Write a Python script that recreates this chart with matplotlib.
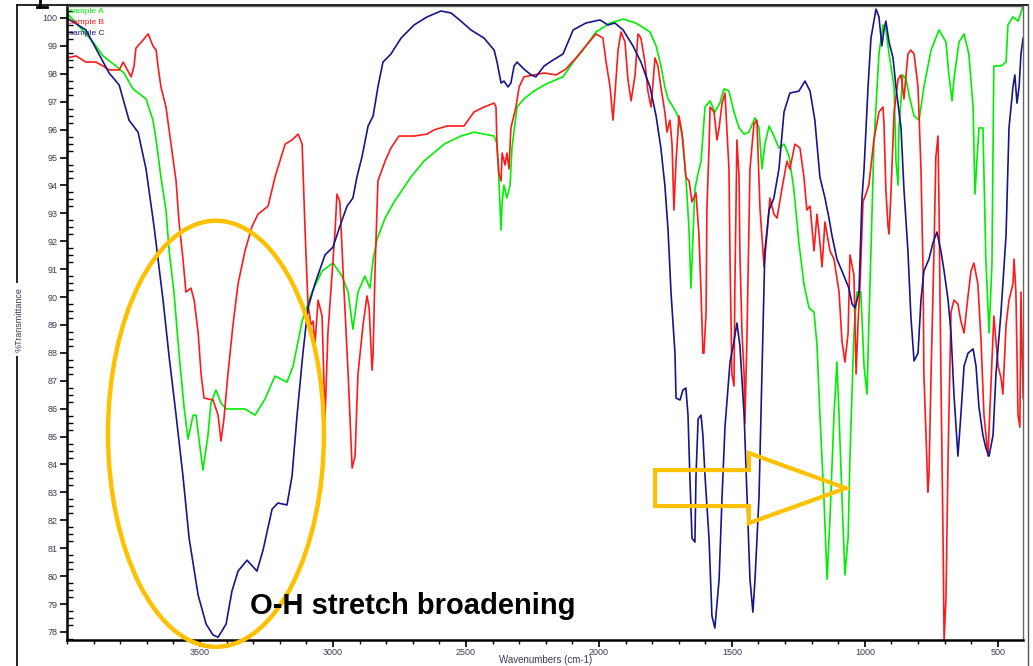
import matplotlib
matplotlib.use("Agg")
import matplotlib.pyplot as plt
from matplotlib.patches import Ellipse, Polygon
from matplotlib.lines import Line2D
from matplotlib.ticker import MultipleLocator

plt.rcParams['font.family'] = ['Liberation Sans', 'DejaVu Sans']

# sample A (green)
wn_a = [4000, 3902, 3865, 3816, 3786, 3752, 3703, 3677, 3665, 3647, 3628, 3616, 3598, 3579, 3560,
        3545, 3526, 3515, 3504, 3489, 3470, 3459, 3440, 3421, 3402, 3331, 3293, 3256, 3218, 3173,
        3150, 3116, 3079, 3041, 3000, 2966, 2943, 2925, 2906, 2880, 2861, 2849, 2834, 2804, 2770,
        2707, 2658, 2582, 2519, 2470, 2394, 2383, 2376, 2368, 2364, 2357, 2346, 2334, 2327, 2308,
        2282, 2244, 2206, 2173, 2135, 2097, 2060, 2011, 1958, 1909, 1861, 1808, 1785, 1767, 1752,
        1740, 1721, 1703, 1684, 1673, 1661, 1654, 1646, 1639, 1627, 1616, 1601, 1582, 1564, 1545,
        1530, 1511, 1492, 1473, 1454, 1436, 1413, 1398, 1387, 1376, 1360, 1342, 1323, 1304, 1285,
        1267, 1248, 1229, 1210, 1191, 1180, 1169, 1154, 1142, 1131, 1116, 1105, 1097, 1086, 1075,
        1063, 1056, 1041, 1030, 1015, 1003, 992, 985, 977, 966, 947, 932, 921, 909, 890,
        883, 875, 872, 857, 845, 834, 815, 796, 778, 751, 721, 695, 684, 672, 665,
        646, 627, 609, 593, 586, 571, 556, 545, 533, 522, 515, 488, 469, 462, 443,
        424, 413, 405]
t_a = [100.18, 99.14, 98.64, 98.28, 98.03, 97.46, 97.10, 96.34, 95.63, 94.30, 93.12, 91.65, 90.18, 87.99, 86.06,
       84.91, 85.77, 85.77, 84.91, 83.80, 85.05, 86.20, 86.67, 86.20, 85.99, 85.99, 85.77, 86.34, 87.17, 86.95,
       87.53, 89.14, 90.18, 90.93, 91.22, 90.75, 90.18, 88.85, 90.18, 90.75, 90.32, 91.36, 92.08, 92.83, 93.41,
       94.30, 94.87, 95.48, 95.77, 95.91, 95.77, 95.48, 94.16, 92.40, 93.41, 94.01, 93.55, 94.01, 95.34, 96.81,
       97.10, 97.38, 97.60, 97.74, 97.89, 98.42, 98.85, 99.50, 99.82, 99.96, 99.82, 99.50, 99.00, 98.28, 97.53,
       97.10, 96.81, 96.49, 95.63, 94.30, 92.40, 90.32, 92.26, 93.87, 94.44, 94.87, 96.81, 97.03, 96.63, 96.95,
       97.46, 97.38, 96.63, 96.06, 95.84, 95.91, 96.42, 96.06, 94.59, 95.48, 96.13, 95.77, 95.34, 95.48, 95.05,
       93.87, 91.94, 90.47, 89.61, 89.46, 88.28, 85.77, 82.83, 79.89, 82.11, 85.77, 87.67, 85.77, 82.83, 80.04,
       81.36, 84.30, 88.71, 90.18, 90.18, 87.53, 86.52, 89.00, 91.65, 95.48, 98.71, 99.75, 99.61, 98.71, 97.53,
       94.87, 94.01, 96.06, 97.96, 97.81, 97.24, 96.49, 96.34, 97.53, 98.85, 99.57, 99.14, 97.96, 97.03, 97.81,
       99.14, 99.43, 98.71, 96.81, 93.69, 96.06, 96.06, 91.36, 88.71, 91.22, 98.28, 98.28, 98.42, 99.75, 100.04,
       99.89, 100.18, 100.47]

# sample B (red)
wn_b = [4000, 3966, 3929, 3891, 3865, 3842, 3804, 3789, 3759, 3748, 3741, 3714, 3695, 3677, 3665,
        3658, 3647, 3628, 3609, 3590, 3579, 3564, 3553, 3534, 3522, 3507, 3496, 3485, 3451, 3432,
        3421, 3410, 3395, 3376, 3357, 3331, 3304, 3282, 3244, 3218, 3180, 3154, 3131, 3116, 3105,
        3094, 3083, 3075, 3068, 3056, 3041, 3030, 3019, 3004, 2992, 2985, 2974, 2962, 2943, 2928,
        2917, 2906, 2887, 2872, 2864, 2853, 2849, 2842, 2831, 2804, 2782, 2752, 2695, 2646, 2620,
        2571, 2507, 2470, 2432, 2394, 2387, 2383, 2376, 2368, 2364, 2353, 2346, 2338, 2331, 2312,
        2300, 2282, 2244, 2206, 2161, 2124, 2086, 2049, 2011, 1985, 1973, 1958, 1947, 1940, 1928,
        1917, 1902, 1891, 1879, 1864, 1853, 1842, 1827, 1816, 1804, 1789, 1778, 1767, 1752, 1744,
        1733, 1725, 1718, 1710, 1699, 1688, 1673, 1661, 1650, 1635, 1624, 1616, 1609, 1605, 1597,
        1594, 1586, 1582, 1567, 1556, 1548, 1537, 1526, 1511, 1507, 1500, 1492, 1489, 1481, 1473,
        1470, 1462, 1454, 1451, 1443, 1432, 1417, 1406, 1394, 1379, 1368, 1357, 1342, 1330, 1312,
        1293, 1282, 1263, 1244, 1229, 1218, 1206, 1191, 1180, 1172, 1161, 1150, 1131, 1116, 1097,
        1086, 1075, 1063, 1056, 1041, 1033, 1026, 1018, 1007, 996, 985, 966, 947, 932, 928,
        921, 913, 909, 902, 890, 875, 864, 853, 845, 838, 827, 815, 800, 789, 781,
        778, 770, 763, 759, 751, 740, 733, 725, 721, 714, 706, 702, 695, 687, 676,
        665, 650, 639, 627, 612, 601, 590, 575, 563, 552, 537, 526, 515, 499, 488,
        481, 469, 458, 443, 439, 432, 424, 417, 413, 405]
t_b = [98.57, 98.64, 98.42, 98.42, 98.28, 98.14, 98.14, 98.42, 97.89, 98.28, 98.92, 99.21, 99.43, 99.00, 98.85,
       98.28, 97.53, 96.81, 95.48, 94.16, 92.69, 91.36, 90.18, 90.32, 89.89, 88.71, 87.24, 86.38, 86.31, 85.77,
       84.84, 85.63, 87.24, 89.00, 90.47, 91.65, 92.54, 92.97, 93.26, 94.30, 95.48, 95.63, 95.84, 95.48, 92.40,
       89.75, 89.00, 89.14, 88.28, 89.89, 89.32, 85.63, 88.71, 90.79, 92.40, 93.69, 93.41, 90.93, 87.24, 83.87,
       84.30, 87.24, 89.00, 90.04, 89.61, 87.38, 87.99, 90.93, 94.16, 94.87, 95.34, 95.77, 95.77, 95.84, 95.99,
       96.13, 96.13, 96.63, 96.81, 96.95, 96.81, 95.34, 94.44, 94.16, 95.16, 94.73, 95.16, 94.59, 96.06, 96.81,
       97.53, 97.89, 97.96, 98.03, 97.96, 98.17, 98.57, 99.00, 99.43, 99.28, 98.42, 97.53, 96.34, 97.24, 98.85,
       99.50, 99.14, 97.81, 97.03, 97.96, 99.43, 99.28, 98.42, 97.38, 96.81, 98.57, 98.28, 97.53, 96.63, 95.91,
       96.34, 95.48, 93.12, 94.87, 96.49, 95.91, 94.30, 94.16, 93.41, 93.73, 92.26, 90.18, 87.99, 87.99, 89.46,
       93.12, 95.34, 96.81, 96.63, 95.63, 96.06, 96.95, 97.31, 94.59, 91.36, 87.24, 86.81, 90.18, 95.63, 94.30,
       91.65, 88.71, 87.24, 85.48, 88.71, 94.59, 96.20, 96.34, 93.12, 91.08, 92.26, 93.55, 92.97, 92.83, 93.87,
       94.87, 94.59, 95.48, 95.34, 94.30, 93.12, 93.26, 91.65, 92.97, 92.26, 91.08, 92.69, 91.65, 91.36, 90.18,
       88.42, 87.67, 88.71, 91.51, 90.79, 87.24, 88.99, 90.47, 93.41, 93.69, 94.01, 95.63, 96.63, 96.81, 96.20,
       93.87, 92.54, 92.26, 93.69, 96.63, 97.81, 97.96, 97.10, 97.96, 98.71, 98.85, 98.71, 97.53, 94.59, 90.93,
       87.24, 85.05, 83.01, 83.58, 87.24, 91.65, 95.02, 95.77, 93.12, 87.24, 81.36, 77.71, 79.18, 84.30, 89.46,
       89.89, 89.75, 89.14, 88.71, 90.04, 90.93, 91.22, 90.47, 88.42, 85.77, 84.30, 86.81, 89.32, 87.53, 87.10,
       86.52, 89.00, 89.89, 90.47, 91.36, 90.18, 85.77, 85.34, 90.18, 86.38]

# sample C (navy)
wn_c = [4000, 3929, 3842, 3804, 3767, 3733, 3703, 3673, 3658, 3639, 3616, 3590, 3564, 3541, 3507,
        3477, 3451, 3432, 3402, 3380, 3357, 3323, 3286, 3263, 3229, 3207, 3173, 3154, 3135, 3113,
        3094, 3068, 3030, 3000, 2974, 2947, 2925, 2910, 2891, 2868, 2849, 2831, 2812, 2782, 2744,
        2695, 2646, 2594, 2556, 2519, 2481, 2432, 2394, 2383, 2368, 2357, 2342, 2331, 2319, 2308,
        2282, 2255, 2237, 2206, 2173, 2135, 2097, 2049, 1996, 1966, 1940, 1909, 1872, 1842, 1808,
        1785, 1767, 1752, 1740, 1729, 1714, 1710, 1695, 1684, 1673, 1665, 1658, 1650, 1639, 1635,
        1627, 1616, 1609, 1601, 1586, 1575, 1564, 1548, 1537, 1526, 1507, 1492, 1481, 1470, 1454,
        1443, 1432, 1421, 1413, 1398, 1387, 1376, 1360, 1342, 1323, 1304, 1282, 1248, 1225, 1206,
        1188, 1169, 1150, 1135, 1124, 1105, 1086, 1060, 1048, 1037, 1022, 1011, 1003, 988, 977,
        958, 947, 936, 928, 921, 909, 894, 883, 864, 853, 838, 827, 815, 800, 789,
        778, 759, 744, 729, 714, 702, 687, 676, 665, 650, 639, 627, 612, 593, 582,
        571, 556, 545, 533, 518, 507, 488, 469, 458, 443, 436, 428, 420, 413, 405]
t_c = [100.00, 99.57, 98.03, 97.60, 96.34, 95.91, 94.59, 92.54, 91.36, 89.89, 87.85, 85.77, 83.58, 81.36, 79.32,
       78.28, 77.89, 77.81, 78.28, 79.46, 80.18, 80.57, 80.18, 80.93, 82.40, 82.62, 82.55, 83.58, 85.77, 87.99,
       89.61, 90.47, 91.51, 91.79, 92.54, 93.26, 93.55, 94.30, 95.02, 96.13, 96.49, 97.53, 98.42, 98.71, 99.28,
       99.75, 100.04, 100.25, 100.18, 99.89, 99.57, 99.28, 98.85, 98.42, 97.67, 97.74, 97.53, 97.67, 98.28, 98.42,
       98.17, 97.96, 97.89, 98.28, 98.49, 98.71, 99.57, 99.82, 99.93, 99.75, 99.82, 99.57, 99.00, 98.42, 97.53,
       96.49, 95.34, 94.01, 92.40, 90.18, 87.99, 86.38, 86.31, 86.67, 86.74, 85.77, 83.58, 81.36, 81.22, 83.58,
       85.63, 85.77, 85.05, 83.58, 81.36, 78.57, 78.14, 79.89, 82.83, 85.34, 87.67, 88.42, 89.07, 88.28, 85.77,
       82.83, 79.89, 78.71, 79.89, 82.83, 87.24, 91.65, 93.12, 93.55, 94.59, 96.63, 97.31, 97.38, 97.74, 97.38,
       96.34, 94.30, 93.55, 92.83, 92.22, 91.36, 90.93, 90.32, 89.75, 89.61, 90.18, 93.50, 94.59, 97.53, 99.28,
       100.32, 100.04, 99.00, 99.57, 99.89, 99.14, 98.57, 97.53, 96.06, 93.87, 91.65, 89.32, 87.71, 87.99, 89.89,
       90.93, 91.36, 91.94, 92.33, 91.65, 90.93, 89.89, 88.71, 86.52, 84.30, 85.77, 87.53, 87.99, 88.14, 87.53,
       86.06, 85.05, 84.59, 84.30, 85.05, 87.24, 89.46, 92.22, 96.06, 97.53, 97.96, 96.95, 97.53, 98.71, 99.28]

labels = ['sample A', 'sample B', 'sample C']
colors = ['#00ee00', '#ff1a1a', '#16168a']
yticks = list(range(78, 101))
xticks = [3500, 3000, 2500, 2000, 1500, 1000, 500]

fig = plt.figure(figsize=(10.33, 6.66), dpi=100)
ax = fig.add_axes([0.0649, 0.039, 0.9255, 0.952])

for wn, t, c in zip([wn_a, wn_b, wn_c], [t_a, t_b, t_c], colors):
    ax.plot(wn, t, color=c, lw=1.2)

ax.set_xlim(4000, 405)
ax.set_ylim(77.71, 100.43)
ax.set_xticks(xticks)
ax.set_yticks(yticks)
ax.xaxis.set_minor_locator(MultipleLocator(100))
ax.yaxis.set_minor_locator(MultipleLocator(0.25))
ax.tick_params(which='major', direction='out', length=5, width=1.2, labelsize=6.5,
               labelcolor='#3a3a55', pad=2)
ax.tick_params(axis='x', which='major', pad=1)
ax.tick_params(axis='y', which='minor', direction='in', length=4, width=1)
ax.tick_params(axis='x', which='minor', direction='out', length=3, width=1)
for s in ['left', 'bottom']:
    ax.spines[s].set_linewidth(1.8)
for s in ['top', 'right']:
    ax.spines[s].set_color('#666666')
    ax.spines[s].set_linewidth(1)

fig.text(546 / 1033, 0.0015, 'Wavenumbers (cm-1)', fontsize=7, color='#3a3a55',
         ha='center', va='bottom')

# legend as coloured text
for i, (lab, c) in enumerate(zip(labels, colors)):
    ax.text(0.002, 0.997 - i * 0.0175, lab, transform=ax.transAxes, color=c,
            fontsize=6, va='top', ha='left')

# annotations
ax.add_patch(Ellipse((3440, 85.1), 812, 15.27, fill=False, ec='#ffc000', lw=3.2,
                     clip_on=False, zorder=5))
ax.text(3312, 78.64, 'O-H stretch broadening', fontsize=21, fontweight='bold',
        color='black', ha='left', va='baseline', zorder=6)
arrow = [(1789, 83.80), (1436, 83.80), (1436, 84.41), (1071, 83.15),
         (1436, 81.90), (1436, 82.51), (1789, 82.51)]
ax.add_patch(Polygon(arrow, closed=True, fill=False, ec='#ffc000', lw=3, zorder=5))

# outer frame of the page
fx0, fx1, fy1 = 17 / 1033, 1028 / 1033, 1 - 5 / 666
fig.add_artist(Line2D([fx0, fx0], [0, fy1], color='black', lw=1.2))
fig.add_artist(Line2D([fx0, fx1], [fy1, fy1], color='black', lw=1.2))
fig.add_artist(Line2D([fx1, fx1], [0, fy1], color='#555555', lw=1))
# small cut-off mark above the frame
fig.add_artist(Line2D([40 / 1033, 40 / 1033], [1.0, 1 - 7 / 666], color='black', lw=2))
fig.add_artist(Line2D([37 / 1033, 47 / 1033], [1 - 7 / 666, 1 - 7 / 666], color='black', lw=2))

fig.text(fx0 + 0.002, 0.52, '%Transmittance', rotation=90, fontsize=6.5,
         color='#3a3a55', ha='center', va='center',
         bbox=dict(fc='white', ec='none', pad=3))

fig.savefig('out.png', dpi=100)
